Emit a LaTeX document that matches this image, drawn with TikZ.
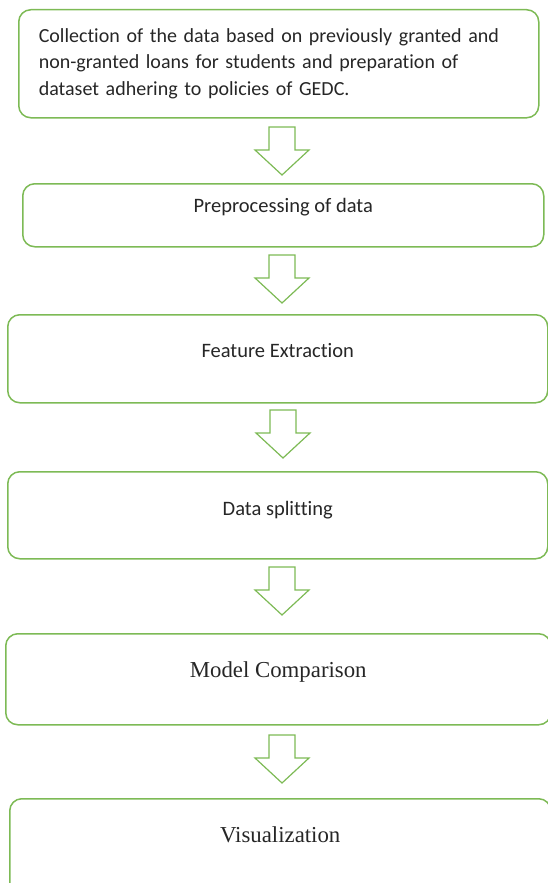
\documentclass[tikz,border=0pt]{standalone}
\usepackage{fontspec}
\setmainfont{Carlito}[Ligatures=NoCommon]
\newfontfamily\timesfont{Liberation Serif}

\definecolor{boxgreen}{RGB}{125,186,85}
\definecolor{inkgray}{RGB}{38,38,38}

\tikzset{
  stage/.style={draw=boxgreen, line width=1.5pt, rounded corners=12pt,
    anchor=north west, inner xsep=0pt, inner ysep=0pt, text=inkgray,
    font=\fontsize{20.5}{24.6}\selectfont},
  serifstage/.style={stage, font=\timesfont\fontsize{22.8}{27}\selectfont},
  arrowline/.style={draw=boxgreen, line width=1.2pt, fill=white},
  flowarrow/.pic={
    \draw[arrowline] (-13,0) -- (13,0) -- (13,23) -- (27,23) -- (0,48)
      -- (-27,23) -- (-13,23) -- cycle;
  }
}

\begin{document}
\begin{tikzpicture}[x=1pt, y=-1pt]
  % Page frame
  \clip (0,0) rectangle (548,883);

  % Stage 1: data collection
  \node[stage, minimum width=520pt, minimum height=108pt, align=left,
    text width=480pt, inner xsep=20pt, font=\fontsize{20}{26.5}\selectfont]
    (collect) at (18,9)
    {Collection of the data based on previously granted and\\
     non-granted loans for students and preparation of\\
     dataset adhering to policies of GEDC.};

  % Stage 2: preprocessing
  \node[stage, minimum width=521pt, text height=29pt, text depth=34pt]
    (prep) at (22,183) {Preprocessing of data};

  % Stage 3: features
  \node[stage, minimum width=540pt, text height=43pt, text depth=45pt]
    (feat) at (7,314) {Feature Extraction};

  % Stage 4: splitting
  \node[stage, minimum width=540pt, text height=44pt, text depth=43pt]
    (split) at (7,471) {Data splitting};

  % Stage 5: models
  \node[serifstage, minimum width=545pt, text height=44pt, text depth=47pt]
    (model) at (5,633) {Model Comparison};

  % Stage 6: plots
  \node[serifstage, minimum width=541pt, text height=44pt, text depth=53pt]
    (visual) at (9,798) {Visualization};

  % Block arrows between the stages
  \pic (arr1) at (282,127) {flowarrow};
  \pic (arr2) at (282,255) {flowarrow};
  \pic (arr3) at (283,410) {flowarrow};
  \pic (arr4) at (282,567) {flowarrow};
  \pic (arr5) at (282,735) {flowarrow};
\end{tikzpicture}
\end{document}
